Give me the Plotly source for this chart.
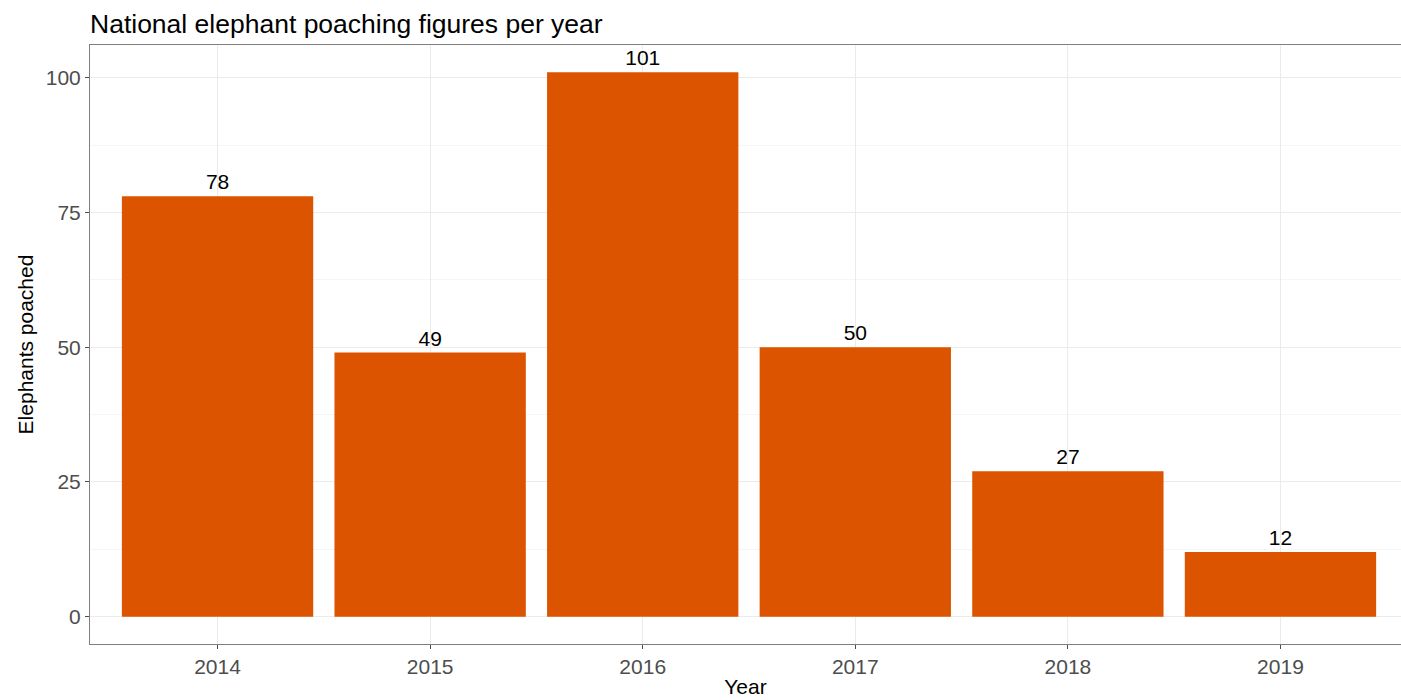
import plotly.graph_objects as go

years = ["2014", "2015", "2016", "2017", "2018", "2019"]
poached = [78, 49, 101, 50, 27, 12]
y_ticks = [0, 25, 50, 75, 100]

bar_color = "#DD5400"
grid = "#EBEBEB"
axis_col = "#4D4D4D"
font_family = "Liberation Sans, Arial, sans-serif"

fig = go.Figure()
fig.add_trace(go.Bar(
    x=list(range(len(years))), y=poached, width=0.9,
    marker=dict(color=bar_color, line=dict(width=0)),
    text=[str(v) for v in poached], textposition="outside",
    textfont=dict(family=font_family, size=21, color="black"),
    cliponaxis=False,
))

fig.update_layout(
    width=1401, height=700,
    margin=dict(l=90, r=0, t=45, b=56),
    paper_bgcolor="white", plot_bgcolor="white",
    bargap=0.1, showlegend=False,
    font=dict(family=font_family, color="black"),
    title=dict(text="National elephant poaching figures per year",
               x=90/1401, xanchor="left", y=1-24/700, yanchor="middle",
               font=dict(size=26.5, color="black")),
    xaxis=dict(
        range=[-0.6, 5.567], tickmode="array",
        tickvals=list(range(len(years))), ticktext=years,
        showgrid=True, gridcolor=grid, gridwidth=1,
        ticks="outside", ticklen=4, tickcolor=axis_col,
        tickfont=dict(size=21, color=axis_col),
        showline=True, linecolor="#7F7F7F", linewidth=1, mirror=True,
        zeroline=False,
        title=dict(text="Year", font=dict(size=21, color="black"), standoff=2),
    ),
    yaxis=dict(
        range=[-5.05, 106.05], tickmode="array", tickvals=y_ticks,
        showgrid=True, gridcolor=grid, gridwidth=1,
        minor=dict(tickmode="array", tickvals=[12.5, 37.5, 62.5, 87.5],
                   showgrid=True, gridcolor="#F5F5F5", gridwidth=1),
        ticks="outside", ticklen=4, tickcolor=axis_col,
        tickfont=dict(size=21, color=axis_col),
        showline=True, linecolor="#7F7F7F", linewidth=1, mirror=False,
        zeroline=False,
        title=dict(text="Elephants poached", font=dict(size=21, color="black"), standoff=6),
    ),
)

fig.write_html("out.html", config={"displayModeBar": False},
               post_script="document.body.style.margin='0';document.body.style.overflow='hidden';")
